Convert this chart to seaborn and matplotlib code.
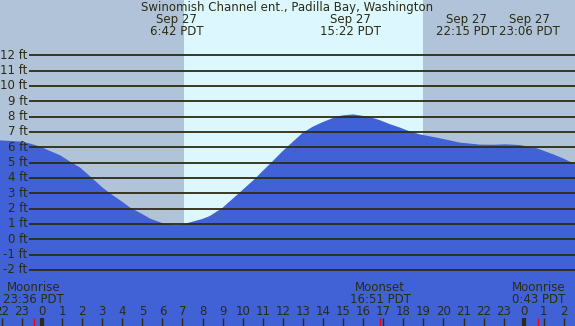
import numpy as np
import pandas as pd
import matplotlib
matplotlib.use("Agg")
import matplotlib.pyplot as plt
import matplotlib.transforms as mtransforms
import seaborn as sns

# tide heights (ft), hours relative to midnight Sep 27
hours = [-2.09, -2, -1.1, -0.6, -0.1, 0.4, 0.9, 1.39, 1.89, 2.39, 3, 3.39, 4,
         4.38, 5, 5.38, 6, 6.7, 7, 8, 8.37, 9, 9.86, 10.69, 11, 11.44, 12,
         12.19, 13, 13.5, 14, 14.68, 15, 15.5, 16.33, 16.83, 17.33, 17.83,
         18.33, 18.82, 19.32, 19.82, 20.82, 21.81, 22.5, 23.1, 23.8, 24.64,
         25.45, 26, 26.55]
heights = [6.41, 6.40, 6.33, 6.20, 6.00, 5.71, 5.43, 5.02, 4.63, 4.05, 3.33,
           2.94, 2.39, 2.02, 1.59, 1.30, 1.00, 0.87, 0.92, 1.28, 1.47, 2.00,
           3.00, 3.98, 4.40, 4.96, 5.70, 5.93, 6.90, 7.30, 7.60, 7.96, 8.04,
           8.10, 7.93, 7.72, 7.46, 7.24, 6.98, 6.80, 6.67, 6.54, 6.26, 6.13,
           6.12, 6.15, 6.10, 5.89, 5.50, 5.20, 4.85]

# extremes shown on top (label time, hour position)
extreme_times = ["6:42 PDT", "15:22 PDT", "22:15 PDT", "23:06 PDT"]
extreme_hours = [6.70, 15.37, 22.25, 23.10]
extreme_shift = [0, 0, -1.1, 1.2]  # nudges so the last two labels don't collide

# moon events at the bottom
moon_names = ["Moonrise", "Moonset", "Moonrise"]
moon_times = ["23:36 PDT", "16:51 PDT", "0:43 PDT"]
moon_hours = [-0.40, 16.85, 24.72]

sunrise, sunset = 7.07, 18.97
ft_levels = list(range(-2, 13))

x_min, x_max = -2.09, 26.55
y_min, y_max = -5.66, 15.61

night = "#b0c3d8"
day = "#ddf7fe"
water = "#4161d6"
ink = "#2c2c12"
fs = 8.5

df = pd.DataFrame({"hour": hours, "height": heights})

fig = plt.figure(figsize=(5.75, 3.26), dpi=100)
ax = fig.add_axes([0, 0, 1, 1])
ax.set_xlim(x_min, x_max)
ax.set_ylim(y_min, y_max)
ax.axis("off")

# day / night background
ax.axvspan(x_min, sunrise, color=night, lw=0, zorder=0)
ax.axvspan(sunrise, sunset, color=day, lw=0, zorder=0)
ax.axvspan(sunset, x_max, color=night, lw=0, zorder=0)

# tide curve
ax.fill_between(df["hour"], df["height"], y_min, color=water, lw=0, zorder=1)
sns.lineplot(data=df, x="hour", y="height", color=water, lw=1, ax=ax, zorder=1)

# foot grid lines + labels
ax.hlines(ft_levels, -0.65, x_max, color=ink, lw=1.3, zorder=2)
for lv in ft_levels:
    ax.text(-0.72, lv, f"{lv} ft", ha="right", va="center", fontsize=fs,
            color=ink, zorder=3)

trans = mtransforms.blended_transform_factory(ax.transData, ax.transAxes)

# title and extremes
ax.text(0.5, 0.977, "Swinomish Channel ent., Padilla Bay, Washington",
        transform=ax.transAxes, ha="center", va="center", fontsize=fs, color=ink)
for t, h, s in zip(extreme_times, extreme_hours, extreme_shift):
    ax.text(h + s, 0.940, "Sep 27", transform=trans, ha="center", va="center",
            fontsize=fs, color=ink)
    ax.text(h + s, 0.903, t, transform=trans, ha="center", va="center",
            fontsize=fs, color=ink)

# moon events
for name, t, h in zip(moon_names, moon_times, moon_hours):
    ax.text(h, 0.118, name, transform=trans, ha="center", va="center",
            fontsize=fs, color=ink)
    ax.text(h, 0.081, t, transform=trans, ha="center", va="center",
            fontsize=fs, color=ink)
    ax.vlines(h, 0, 0.025, transform=trans, color="red", lw=1, zorder=3)

# hour ticks along the bottom
for hr in range(-2, 27):
    ax.text(hr, 0.043, str(hr % 24), transform=trans, ha="center", va="center",
            fontsize=fs, color=ink, clip_on=True)
    ax.vlines(hr, 0, 0.025, transform=trans, color=ink,
              lw=3 if hr % 24 == 0 else 1, zorder=3)

fig.savefig("out.png", dpi=100)
